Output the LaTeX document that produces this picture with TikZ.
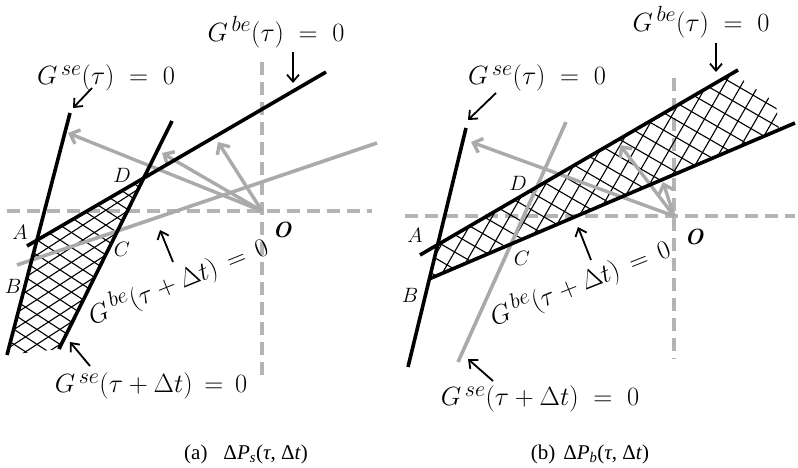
\documentclass[tikz,border=0pt]{standalone}
\usepackage{fontspec}
\newfontfamily\capfont{Liberation Serif}
\usetikzlibrary{arrows.meta,calc}
\definecolor{lgray}{RGB}{170,170,170}
\definecolor{dgray}{RGB}{180,180,180}
\begin{document}
\begin{tikzpicture}[x=1pt,y=-1pt,
  blackline/.style={line width=3.6pt, black},
  grayline/.style={line width=3.6pt, lgray},
  axisline/.style={line width=3.6pt, dgray, dash pattern=on 13pt off 7pt},
  grayarrow/.style={line width=3.4pt, lgray, -{Straight Barb[length=8pt,width=15pt]}},
  labarrow/.style={line width=1.8pt, black, -{Straight Barb[length=7pt,width=12pt]}},
  hatchline/.style={line width=1.1pt, black},
  eq/.style={font=\Huge, scale=1.06, inner sep=0pt},
  ptlab/.style={font=\huge, inner sep=0pt},
  olab/.style={font=\huge\bfseries\itshape, scale=1.06, inner sep=0pt},
  caption/.style={font=\capfont\fontsize{21}{24}\selectfont, inner sep=0pt}]
\useasboundingbox (0,0) rectangle (798,468);

% ================= panel (a) =================
\coordinate (aH1) at (7,211);   \coordinate (aH2) at (372,211);
\coordinate (aV1) at (262,62);  \coordinate (aV2) at (262,377);
\coordinate (aO) at (262,211);
\coordinate (aSe1t) at (70,113);  \coordinate (aSe1b) at (7,355);
\coordinate (aSe2t) at (172,121); \coordinate (aSe2b) at (59,349);
\coordinate (aBe1l) at (27,246);  \coordinate (aBe1r) at (326,72);
\coordinate (aBe2l) at (17,265);  \coordinate (aBe2r) at (377,143);
\coordinate (aA) at (37,240); \coordinate (aD) at (144,178);
\coordinate (aT1) at (68,133); \coordinate (aT2) at (162,153); \coordinate (aT3) at (218,142);

\draw[axisline] (aH1) -- (aH2);
\draw[axisline] (aV1) -- (aV2);

\begin{scope}
\clip (aA) -- (aD) -- (aSe2b) -- (aSe1b) -- cycle;
\foreach \k in {-25,...,25} {
  \draw[hatchline] (aA) ++(57:{\k*12.5}) ++(-33:-400) -- ++(-33:800);
  \draw[hatchline] (aA) ++(123:{\k*12.5}) ++(33:-400) -- ++(33:800);
}
\end{scope}

\draw[grayline] (aBe2l) -- (aBe2r);
\draw[grayarrow] (aO) -- (aT1);
\draw[grayarrow] (aO) -- (aT2);
\draw[grayarrow] (aO) -- (aT3);

\draw[blackline] (aSe1t) -- (aSe1b);
\draw[blackline] (aSe2t) -- (aSe2b);
\draw[blackline] (aBe1l) -- (aBe1r);

\node[eq] (aLbe1) at (276,32) {$G^{\,be}(\tau)\;=\;0$};
\node[eq] (aLse1) at (106,78) {$G^{\,se}(\tau)\;=\;0$};
\node[eq] (aLse2) at (151,386) {$G^{\,se}(\tau + \Delta t)\,=\,0$};
\node[eq, rotate=22] (aLbe2) at (178,281) {$G^{\,be}(\tau + \Delta t)\,=\,0$};

\coordinate (aP1s) at (293,52);  \coordinate (aP1e) at (293,83);
\coordinate (aP2s) at (92,88);   \coordinate (aP2e) at (73,108);
\coordinate (aP3s) at (173,262); \coordinate (aP3e) at (160,230);
\coordinate (aP4s) at (90,366);  \coordinate (aP4e) at (70,342);
\draw[labarrow] (aP1s) -- (aP1e);
\draw[labarrow] (aP2s) -- (aP2e);
\draw[labarrow] (aP3s) -- (aP3e);
\draw[labarrow] (aP4s) -- (aP4e);

\node[ptlab] (aLA) at (20,232) {$A$};
\node[ptlab] (aLB) at (13,286) {$B$};
\node[ptlab] (aLC) at (122,249) {$C$};
\node[ptlab] (aLD) at (122,175) {$D$};
\node[olab] (aLO) at (282,230) {O};

\node[caption] (aCap) at (246,454) {(a)\hspace{16pt}Δ\textit{P}\textsubscript{\textit{s}}(\textit{τ}, Δ\textit{t})};

% ================= panel (b) =================
\coordinate (bH1) at (405,216);  \coordinate (bH2) at (795,216);
\coordinate (bV1) at (674,78);   \coordinate (bV2) at (674,359);
\coordinate (bO) at (674,216);
\coordinate (bSe1t) at (466,128); \coordinate (bSe1b) at (408,367);
\coordinate (bSe2t) at (566,122); \coordinate (bSe2b) at (458,362);
\coordinate (bBe1l) at (420,255); \coordinate (bBe1r) at (738,70);
\coordinate (bBe2l) at (429,279); \coordinate (bBe2r) at (795,123);
\coordinate (bA) at (438,245); \coordinate (bB) at (429,279);
\coordinate (bR1) at (733,73); \coordinate (bR2) at (776,103); \coordinate (bR3) at (779,130);
\coordinate (bM) at (600,180);
\coordinate (bT1) at (471,142); \coordinate (bT2) at (620,145); \coordinate (bT3) at (663,182);

\draw[axisline] (bH1) -- (bH2);
\draw[axisline] (bV1) -- (bV2);

\begin{scope}
\clip (bA) -- (bR1) -- (bR2) -- (bR3) -- (bB) -- cycle;
\foreach \k in {-25,...,25} {
  \draw[hatchline] (bM) ++(30:{\k*15}) ++(-60:-400) -- ++(-60:800);
  \draw[hatchline] (bM) ++(120:{\k*15}) ++(30:-400) -- ++(30:800);
}
\end{scope}

\draw[grayline] (bSe2t) -- (bSe2b);
\draw[grayarrow] (bO) -- (bT1);
\draw[grayarrow] (bO) -- (bT2);
\draw[grayarrow] (bO) -- (bT3);

\draw[blackline] (bSe1t) -- (bSe1b);
\draw[blackline] (bBe1l) -- (bBe1r);
\draw[blackline] (bBe2l) -- (bBe2r);

\node[eq] (bLbe1) at (701,22) {$G^{\,be}(\tau)\;=\;0$};
\node[eq] (bLse1) at (537,78) {$G^{\,se}(\tau)\;=\;0$};
\node[eq] (bLse2) at (540,399) {$G^{\,se}(\tau + \Delta t)\;=\;0$};
\node[eq, rotate=21.7] (bLbe2) at (580,283) {$G^{\,be}(\tau + \Delta t)\,=\,0$};

\coordinate (bP1s) at (716,43);  \coordinate (bP1e) at (716,72);
\coordinate (bP2s) at (496,93);  \coordinate (bP2e) at (468,120);
\coordinate (bP3s) at (591,260); \coordinate (bP3e) at (578,227);
\coordinate (bP4s) at (493,381); \coordinate (bP4e) at (468,359);
\draw[labarrow] (bP1s) -- (bP1e);
\draw[labarrow] (bP2s) -- (bP2e);
\draw[labarrow] (bP3s) -- (bP3e);
\draw[labarrow] (bP4s) -- (bP4e);

\node[ptlab] (bLA) at (415,235) {$A$};
\node[ptlab] (bLB) at (410,295) {$B$};
\node[ptlab] (bLC) at (522,258) {$C$};
\node[ptlab] (bLD) at (518,183) {$D$};
\node[olab] (bLO) at (694,237) {O};

\node[caption] (bCap) at (590,454) {(b)\hspace{8pt}Δ\textit{P}\textsubscript{\textit{b}}(\textit{τ}, Δ\textit{t})};
\end{tikzpicture}
\end{document}
